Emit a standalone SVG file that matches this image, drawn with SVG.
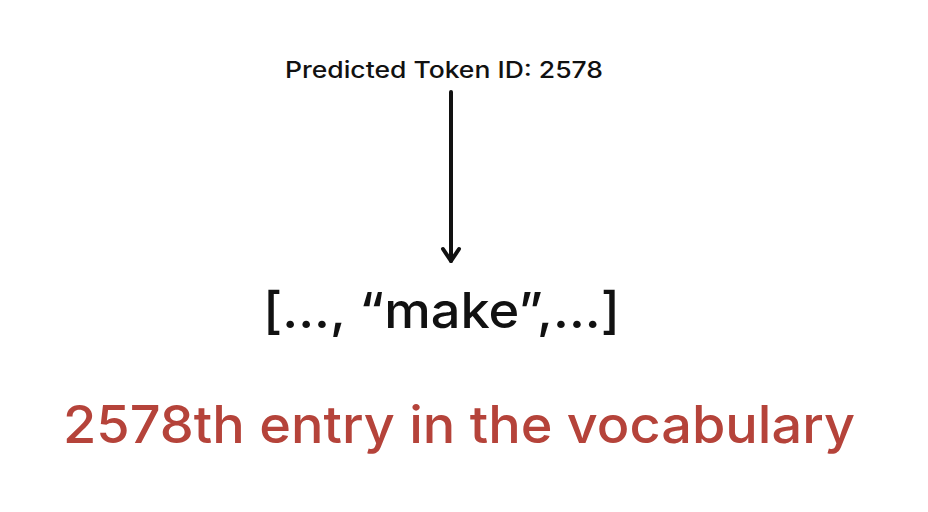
<svg xmlns="http://www.w3.org/2000/svg" width="928" height="512" viewBox="0 0 928 512">
<style>
text{font-family:Inter,"DejaVu Sans","Liberation Sans",sans-serif}
.top{font-size:23px;fill:#111;font-weight:500}
.mid{font-size:50px;fill:#111;font-weight:500}
.bot{font-size:52px;fill:#b5433a;font-weight:500}
.conn{stroke:#111;stroke-width:4;fill:none;stroke-linecap:round;stroke-linejoin:round}
</style>
<rect width="928" height="512" fill="#fff"/>
<g id="predicted-token">
<text class="top" x="285" y="78" textLength="318" lengthAdjust="spacingAndGlyphs">Predicted Token ID: 2578</text>
</g>
<g id="connectors">
<path class="conn" d="M451 92 L451 261"/>
<path class="conn" d="M443 249 L451 261 L459 249"/>
</g>
<g id="vocab-list">
<text class="mid" x="263" y="328" textLength="357" lengthAdjust="spacingAndGlyphs">[..., “make”,...]</text>
</g>
<g id="entry-label">
<text class="bot" x="63" y="443" textLength="792" lengthAdjust="spacingAndGlyphs">2578th entry in the vocabulary</text>
</g>
</svg>
